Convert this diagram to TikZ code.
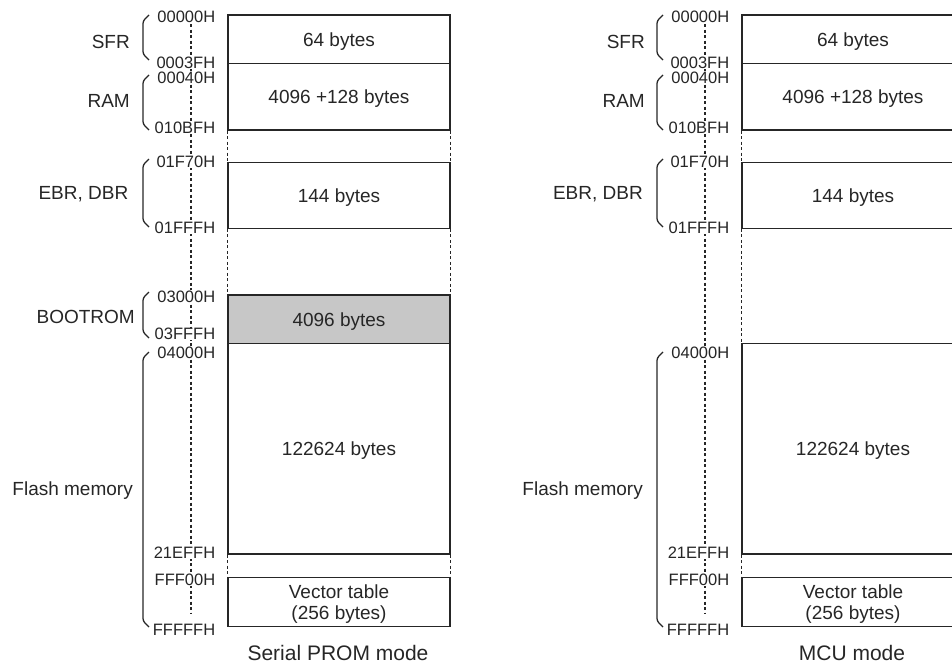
\documentclass[tikz,border=0pt]{standalone}
\usepackage{fontspec}
\setmainfont{Liberation Sans}
\usetikzlibrary{positioning}

\begin{document}
\begin{tikzpicture}[
    x=1pt, y=-1pt,
    membox/.style={rectangle, draw=black!85, line width=1.3pt, minimum width=222pt, inner sep=0pt, align=center, text depth=0pt, font=\fontsize{19}{21}\selectfont, text=black!85},
    addr/.style={anchor=east, fill=white, inner sep=0.6pt, text depth=0pt, font=\fontsize{16.5}{17}\selectfont, text=black!85},
    region/.style={anchor=east, inner sep=0pt, text depth=0pt, font=\fontsize{19}{21}\selectfont, text=black!85},
    gapline/.style={draw=black!85, line width=1.6pt, dash pattern=on 3pt off 2.5pt},
    brace/.style={draw=black!85, line width=1.3pt, rounded corners=2.5pt},
    modetitle/.style={inner sep=0pt, text depth=0pt, font=\fontsize{21}{24}\selectfont, text=black!85}
]

% Page frame
\useasboundingbox (0,0) rectangle (952,664);
\clip (0,0) rectangle (952,664);

% ---------------- Left map: Serial PROM mode ----------------
% Address guide line
\coordinate (guideTopL) at (191,24);
\coordinate (guideBotL) at (191,614);
\draw[gapline] (guideTopL) -- (guideBotL);

% Memory blocks
\node[membox, minimum height=48.3pt]  (sfrL)   at (339,39.15)  {64 bytes};
\node[membox, minimum height=66.7pt]  (ramL)   at (339,96.65)  {4096 +128 bytes};
\node[membox, minimum height=66pt]    (ebrL)   at (339,195.3)  {144 bytes};
\node[membox, minimum height=48.3pt, fill=black!22] (bootL) at (339,319.15) {4096 bytes};
\node[membox, minimum height=210.7pt] (flashL) at (339,448.65) {122624 bytes};
\node[membox, minimum height=49pt]    (vecL)   at (339,602.2)  {Vector table\\(256 bytes)};

% Unused gaps
\draw[gapline] (ramL.south west) -- (ebrL.north west);
\draw[gapline] (ramL.south east) -- (ebrL.north east);
\draw[gapline] (ebrL.south west) -- (bootL.north west);
\draw[gapline] (ebrL.south east) -- (bootL.north east);
\draw[gapline] (flashL.south west) -- (vecL.north west);
\draw[gapline] (flashL.south east) -- (vecL.north east);

% Addresses
\node[addr] (a00000L) at (216,16.8)  {00000H};
\node[addr] (a0003FL) at (216,62.5)  {0003FH};
\node[addr] (a00040L) at (216,78)    {00040H};
\node[addr] (a010BFL) at (216,127.5) {010BFH};
\node[addr] (a01F70L) at (216,162)   {01F70H};
\node[addr] (a01FFFL) at (216,227.5) {01FFFH};
\node[addr] (a03000L) at (216,296.3) {03000H};
\node[addr] (a03FFFL) at (216,334)   {03FFFH};
\node[addr] (a04000L) at (216,352.5) {04000H};
\node[addr] (a21EFFL) at (216,552.5) {21EFFH};
\node[addr] (aFFF00L) at (216,579.5) {FFF00H};
\node[addr] (aFFFFFL) at (216,630)   {FFFFFH};

% Braces
\draw[brace] (149,15) -- (143,21) -- (143,54) -- (149,60);
\draw[brace] (149,75) -- (143,81) -- (143,124) -- (149,130);
\draw[brace] (149,159) -- (143,165) -- (143,221) -- (149,227);
\draw[brace] (149,292) -- (143,298) -- (143,332) -- (149,338);
\draw[brace] (149,352) -- (143,358) -- (143,621) -- (149,627);

% Region names
\node[region] (sfrNameL)   at (130,42)    {SFR};
\node[region] (ramNameL)   at (130,101)   {RAM};
\node[region] (ebrNameL)   at (128.5,193) {EBR, DBR};
\node[region] (bootNameL)  at (135,316.5) {BOOTROM};
\node[region] (flashNameL) at (133,489)   {Flash memory};

\node[modetitle] (titleL) at (338,653) {Serial PROM mode};

% ---------------- Right map: MCU mode ----------------
% Address guide line
\coordinate (guideTopR) at (705,24);
\coordinate (guideBotR) at (705,614);
\draw[gapline] (guideTopR) -- (guideBotR);

% Memory blocks
\node[membox, minimum height=48.3pt]  (sfrR)   at (853,39.15)  {64 bytes};
\node[membox, minimum height=66.7pt]  (ramR)   at (853,96.65)  {4096 +128 bytes};
\node[membox, minimum height=66pt]    (ebrR)   at (853,195.3)  {144 bytes};
\node[membox, minimum height=210.7pt] (flashR) at (853,448.65) {122624 bytes};
\node[membox, minimum height=49pt]    (vecR)   at (853,602.2)  {Vector table\\(256 bytes)};

% Unused gaps
\draw[gapline] (ramR.south west) -- (ebrR.north west);
\draw[gapline] (ebrR.south west) -- (flashR.north west);
\draw[gapline] (flashR.south west) -- (vecR.north west);

% Addresses
\node[addr] (a00000R) at (730,16.8)  {00000H};
\node[addr] (a0003FR) at (730,62.5)  {0003FH};
\node[addr] (a00040R) at (730,78)    {00040H};
\node[addr] (a010BFR) at (730,127.5) {010BFH};
\node[addr] (a01F70R) at (730,162)   {01F70H};
\node[addr] (a01FFFR) at (730,227.5) {01FFFH};
\node[addr] (a04000R) at (730,352.5) {04000H};
\node[addr] (a21EFFR) at (730,552.5) {21EFFH};
\node[addr] (aFFF00R) at (730,579.5) {FFF00H};
\node[addr] (aFFFFFR) at (730,630)   {FFFFFH};

% Braces
\draw[brace] (663,15) -- (657,21) -- (657,54) -- (663,60);
\draw[brace] (663,75) -- (657,81) -- (657,124) -- (663,130);
\draw[brace] (663,159) -- (657,165) -- (657,221) -- (663,227);
\draw[brace] (663,352) -- (657,358) -- (657,621) -- (663,627);

% Region names
\node[region] (sfrNameR)   at (645,42)    {SFR};
\node[region] (ramNameR)   at (645,101)   {RAM};
\node[region] (ebrNameR)   at (643,193)   {EBR, DBR};
\node[region] (flashNameR) at (643,489)   {Flash memory};

\node[modetitle] (titleR) at (852,653) {MCU mode};

\end{tikzpicture}
\end{document}
